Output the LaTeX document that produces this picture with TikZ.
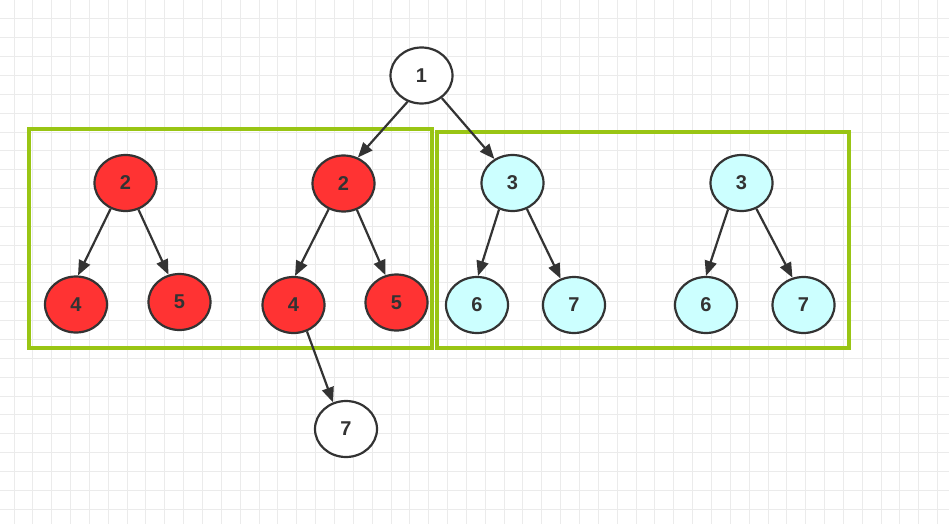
\documentclass[tikz,border=0pt]{standalone}
\usepackage{fontspec}
\setmainfont{Liberation Sans}
\usetikzlibrary{shapes.geometric,arrows.meta}
\definecolor{gridc}{HTML}{EBEBEB}
\definecolor{boxg}{HTML}{99C514}
\definecolor{redf}{HTML}{FF3333}
\definecolor{cyanf}{HTML}{CCFFFF}
\definecolor{ink}{HTML}{333333}
\tikzset{
  tnode/.style={ellipse, draw=ink, line width=2.2pt, minimum width=62pt, minimum height=56pt, inner sep=0pt, font=\bfseries\fontsize{20}{22}\selectfont, text=ink},
  rednode/.style={tnode, fill=redf},
  cyannode/.style={tnode, fill=cyanf},
  whitenode/.style={tnode, fill=white},
  edge/.style={draw=ink, line width=2.2pt, -{Triangle[length=15pt,width=12pt]}},
  gbox/.style={draw=boxg, line width=3.2pt},
}
\begin{document}
\begin{tikzpicture}[x=1pt,y=-1pt]
\useasboundingbox (0,0) rectangle (949,524);
\fill[white] (0,0) rectangle (949,524);
\foreach \i in {0,...,50} {
  \draw[gridc, line width=1pt] ({14+18.85*\i},0) -- ({14+18.85*\i},524);
}
\foreach \j in {0,...,27} {
  \draw[gridc, line width=1pt] (0,{19+18.85*\j}) -- (949,{19+18.85*\j});
}
% green frames
\draw[gbox] (29,129) rectangle (432,348);
\draw[gbox] (437,132) rectangle (849,348);
% nodes
\node[whitenode] (one) at (421.5,75.5) {1};
\node[rednode] (a2) at (125.5,183) {2};
\node[rednode] (a4) at (76,304.5) {4};
\node[rednode] (a5) at (179.5,302) {5};
\node[rednode] (b2) at (343.5,183.5) {2};
\node[rednode] (b4) at (293.5,305) {4};
\node[rednode] (b5) at (396.5,302.5) {5};
\node[whitenode] (w7) at (346,429) {7};
\node[cyannode] (c3) at (512.5,183) {3};
\node[cyannode] (c6) at (477,305) {6};
\node[cyannode] (c7) at (574,305) {7};
\node[cyannode] (d3) at (741.5,183) {3};
\node[cyannode] (d6) at (706,305) {6};
\node[cyannode] (d7) at (803.5,305) {7};
% edges
\draw[edge] (one.242) -- (b2.61);
\draw[edge] (one.312) -- (c3.127);
\draw[edge] (a2.240) -- (a4.86);
\draw[edge] (a2.296) -- (a5.112);
\draw[edge] (b2.240) -- (b4.87);
\draw[edge] (b2.297) -- (b5.112);
\draw[edge] (b4.297) -- (w7.116);
\draw[edge] (c3.243) -- (c6.88);
\draw[edge] (c3.299) -- (c7.117);
\draw[edge] (d3.243) -- (d6.90);
\draw[edge] (d3.300) -- (d7.112);
\end{tikzpicture}
\end{document}
